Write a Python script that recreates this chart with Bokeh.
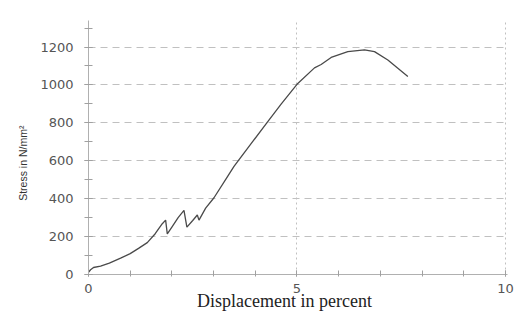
from bokeh.plotting import figure
from bokeh.models import Range1d, FixedTicker, SingleIntervalTicker
from bokeh.embed import file_html
from bokeh.resources import INLINE

displacement = [0.0, 0.05, 0.12, 0.29, 0.5, 0.77, 1.0, 1.2, 1.41, 1.6, 1.77, 1.85,
                1.89, 2.0, 2.15, 2.29, 2.36, 2.5, 2.61, 2.65, 2.81, 3.01, 3.33, 3.49,
                3.9, 4.3, 4.62, 5.02, 5.42, 5.58, 5.82, 6.22, 6.62, 6.86, 7.18, 7.66]
stress = [12, 25, 37, 44, 60, 86, 110, 138, 168, 215, 268, 287,
          214, 250, 300, 338, 250, 285, 314, 287, 350, 405, 515, 570,
          690, 807, 899, 1008, 1090, 1108, 1145, 1176, 1185, 1176, 1132, 1045]

x_ticks = [0, 5, 10]
y_ticks = [0, 200, 400, 600, 800, 1000, 1200]
x_title = "Displacement in percent"
y_title = "Stress in N/mm²"

p = figure(width=516, height=313, output_backend="svg", toolbar_location=None,
           x_range=Range1d(0, 10.05), y_range=Range1d(0, 1340),
           min_border_left=88, min_border_right=9, min_border_top=20,
           min_border_bottom=39)
p.outline_line_color = None
p.background_fill_color = "white"

p.line(displacement, stress, line_color="#4a4a4a", line_width=1.3)

for ax in (p.xaxis[0], p.yaxis[0]):
    ax.axis_line_color = "#b0b0b0"
    ax.major_tick_line_color = "#a0a0a0"
    ax.minor_tick_line_color = "#a0a0a0"
    ax.major_tick_in = 4
    ax.minor_tick_in = 4
    ax.major_label_text_color = "#555555"
    ax.major_label_text_font = "DejaVu Sans"
    ax.major_label_text_font_size = "13px"

p.yaxis.major_tick_out = 4
p.yaxis.minor_tick_out = 4
p.xaxis.major_tick_out = 2
p.xaxis.minor_tick_out = 2

p.xaxis.ticker = SingleIntervalTicker(interval=5, num_minor_ticks=5)
p.yaxis.ticker = SingleIntervalTicker(interval=200, num_minor_ticks=2)
p.xaxis.major_label_standoff = 7
p.yaxis.major_label_standoff = 11

p.xaxis.axis_label = x_title + "\u2002\u2002\u2002"
p.xaxis.axis_label_text_font = "Liberation Serif"
p.xaxis.axis_label_text_font_style = "normal"
p.xaxis.axis_label_text_font_size = "18px"
p.xaxis.axis_label_text_color = "#222222"
p.xaxis.axis_label_standoff = -5

p.yaxis.axis_label = y_title + "\u2003\u2003\u2003"
p.yaxis.axis_label_text_font = "Liberation Sans"
p.yaxis.axis_label_text_font_style = "normal"
p.yaxis.axis_label_text_font_size = "10.5px"
p.yaxis.axis_label_text_color = "#333333"
p.yaxis.axis_label_standoff = 8

p.ygrid.ticker = FixedTicker(ticks=y_ticks[1:])
p.ygrid.grid_line_color = "#c0c0c0"
p.ygrid.grid_line_dash = "7 5"
p.ygrid.grid_line_width = 1
p.xgrid.ticker = FixedTicker(ticks=x_ticks[1:])
p.xgrid.grid_line_color = "#c0c0c0"
p.xgrid.grid_line_dash = "2 3"
p.xgrid.grid_line_width = 1

open("out.html", "w").write(file_html(p, INLINE))
